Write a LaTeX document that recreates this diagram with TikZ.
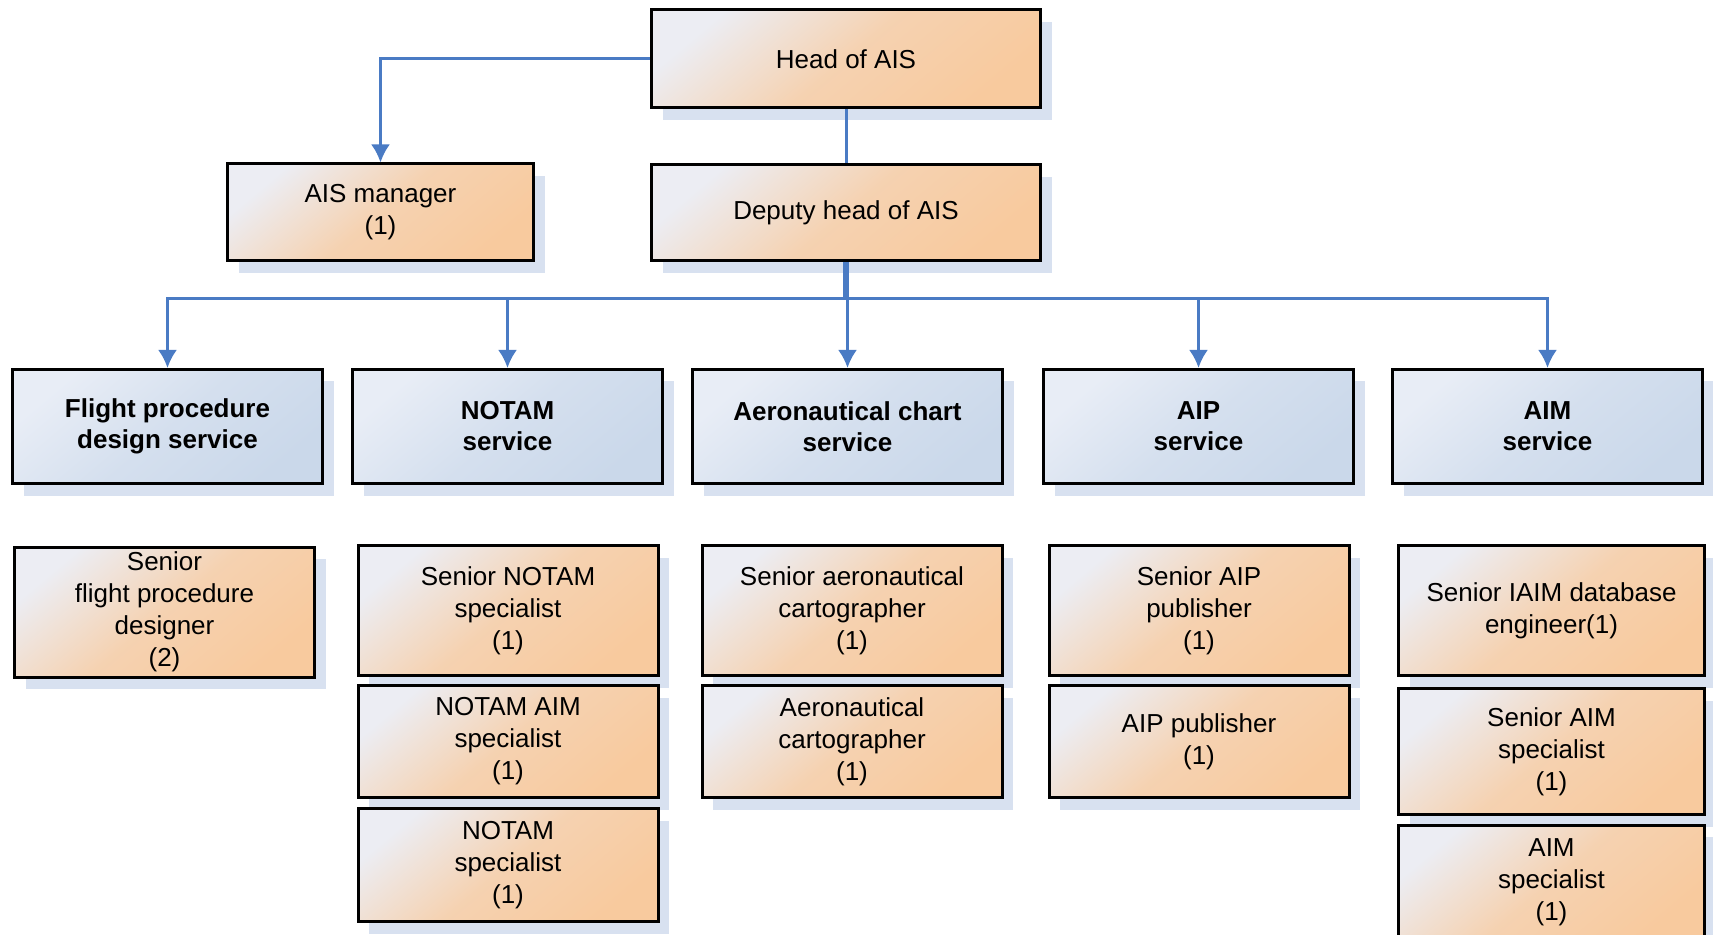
\documentclass[tikz,border=0pt]{standalone}
\usepackage{fontspec}
\setmainfont{Liberation Sans}
\usetikzlibrary{arrows.meta,shadows}

% colours of the chart
\definecolor{linkblue}{HTML}{4A7BC4}
\definecolor{peachlight}{HTML}{ECEDF3}
\definecolor{peachdark}{HTML}{F8CA9E}
\definecolor{bluelight}{HTML}{E8EDF6}
\definecolor{bluedark}{HTML}{CAD8EA}
\definecolor{shadowblue}{HTML}{D8E1F0}

\begin{document}
\begin{tikzpicture}[x=0.5pt, y=-0.5pt, >={Latex[length=9pt,width=9.5pt]},
    box/.style={draw=black, line width=1.5pt, align=center, inner sep=0pt,
        font=\fontsize{13}{16}\selectfont,
        drop shadow={shadow xshift=5.5pt, shadow yshift=-6pt, fill=shadowblue, opacity=1}},
    post/.style={box, top color=peachlight, bottom color=peachdark,
        middle color=peachdark!78!peachlight, shading angle=40},
    service/.style={box, top color=bluelight, bottom color=bluedark,
        middle color=bluedark!65!bluelight, shading angle=40,
        font=\fontsize{13}{15.5}\selectfont\bfseries,
        minimum width=155pt, minimum height=57pt},
    staff/.style={post, minimum width=150pt},
    link/.style={draw=linkblue, line width=1.5pt}]

    \useasboundingbox (0,0) rectangle (1713,935);
    \clip (0,0) rectangle (1713,935);

    % 1. Lãnh đạo
    \node[post, minimum width=194.5pt, minimum height=49pt] (head) at (846,59) {Head of AIS};
    \node[post, minimum width=194.5pt, minimum height=48pt] (deputy) at (846,213) {Deputy head of AIS};
    \node[post, minimum width=153pt, minimum height=48.5pt] (manager) at (380.5,212.5) {AIS manager\\(1)};

    % 2. Các phòng dịch vụ
    \node[service] (flight) at (167.5,426.5) {Flight procedure\\design service};
    \node[service] (notam)  at (507.5,426.5) {NOTAM\\service};
    \node[service] (chart)  at (847.5,426.5) {Aeronautical chart\\service};
    \node[service] (aip)    at (1198.5,426.5) {AIP\\service};
    \node[service] (aim)    at (1547.5,426.5) {AIM\\service};

    % 3. Nhân sự từng phòng
    \node[staff, minimum height=65pt] (fpd1) at (164.5,612) {Senior\\flight procedure\\designer\\(2)};

    \node[staff, minimum height=65pt] (notam1) at (508,610.5) {Senior NOTAM\\specialist\\(1)};
    \node[staff, minimum height=56pt] (notam2) at (508,741.5) {NOTAM AIM\\specialist\\(1)};
    \node[staff, minimum height=56.5pt] (notam3) at (508,865) {NOTAM\\specialist\\(1)};

    \node[staff, minimum height=65pt] (chart1) at (852,610.5) {Senior aeronautical\\cartographer\\(1)};
    \node[staff, minimum height=56pt] (chart2) at (852,741.5) {Aeronautical\\cartographer\\(1)};

    \node[staff, minimum height=65pt] (aip1) at (1199,610.5) {Senior AIP\\publisher\\(1)};
    \node[staff, minimum height=56pt] (aip2) at (1199,741.5) {AIP publisher\\(1)};

    \node[staff, minimum width=153pt, minimum height=65pt] (aim1) at (1551.5,610.5) {Senior IAIM database\\engineer(1)};
    \node[staff, minimum width=153pt, minimum height=63pt] (aim2) at (1551.5,751.5) {Senior AIM\\specialist\\(1)};
    \node[staff, minimum width=153pt, minimum height=57pt] (aim3) at (1551.5,882) {AIM\\specialist\\(1)};

    % 4. Đường nối
    \draw[link, ->] (head.west) -| (manager.north);
    \draw[link] (head.south) -- (deputy.north);
    \draw[link, line width=3pt] (deputy.south) -- ++(0,36);
    \foreach \s in {flight, notam, chart, aip, aim}
        \draw[link, ->] (deputy.south) -- ++(0,36) -| (\s.north);

\end{tikzpicture}
\end{document}
